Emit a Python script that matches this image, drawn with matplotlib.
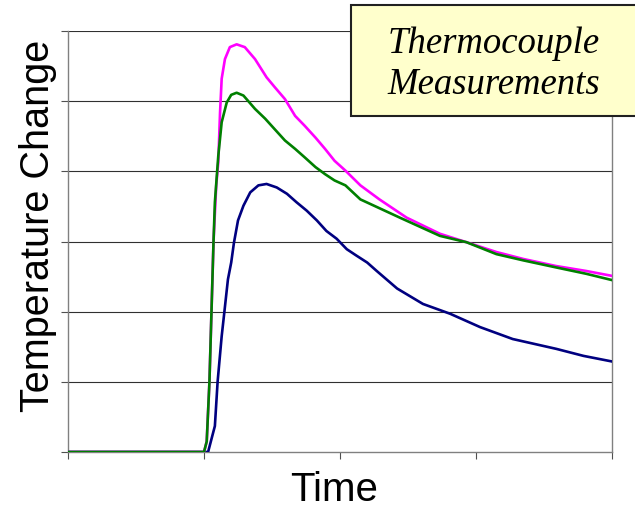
import matplotlib
matplotlib.use("Agg")
import matplotlib.pyplot as plt
from matplotlib.patches import Rectangle

# values (x: 4 tick intervals, y: 6 gridline intervals)
magenta_x = [0.0, 1.0, 1.02, 1.04, 1.055, 1.07, 1.09, 1.105, 1.118, 1.13, 1.154, 1.19, 1.24,
             1.30, 1.375, 1.46, 1.52, 1.595, 1.67, 1.74, 1.82, 1.89, 1.96, 2.04, 2.15,
             2.29, 2.49, 2.735, 2.93, 3.15, 3.35, 3.59, 3.81, 4.0]
magenta_y = [0.0, 0.0, 0.15, 1.0, 2.0, 3.0, 3.8, 4.13, 4.84, 5.32, 5.60, 5.77, 5.81,
             5.77, 5.60, 5.34, 5.20, 5.03, 4.79, 4.65, 4.48, 4.32, 4.15, 4.01, 3.80,
             3.60, 3.34, 3.11, 2.99, 2.85, 2.75, 2.65, 2.58, 2.51]

green_x = [0.0, 1.0, 1.02, 1.04, 1.055, 1.07, 1.08, 1.105, 1.13, 1.167, 1.20, 1.24,
           1.29, 1.375, 1.45, 1.52, 1.595, 1.67, 1.74, 1.82, 1.89, 1.96, 2.04, 2.15,
           2.44, 2.735, 2.93, 3.15, 3.35, 3.59, 3.81, 4.0]
green_y = [0.0, 0.0, 0.15, 1.0, 2.0, 3.0, 3.56, 4.22, 4.70, 4.98, 5.09, 5.12,
           5.08, 4.89, 4.75, 4.60, 4.44, 4.32, 4.20, 4.06, 3.96, 3.87, 3.80, 3.60,
           3.34, 3.08, 2.99, 2.82, 2.73, 2.63, 2.54, 2.45]

blue_x = [0.0, 1.03, 1.08, 1.10, 1.13, 1.15, 1.176, 1.20, 1.22, 1.25, 1.29, 1.34, 1.40,
          1.46, 1.535, 1.61, 1.68, 1.755, 1.83, 1.90, 1.975, 2.05, 2.12, 2.20, 2.27,
          2.42, 2.61, 2.81, 3.03, 3.27, 3.59, 3.79, 4.0]
blue_y = [0.0, 0.0, 0.37, 1.0, 1.65, 2.0, 2.46, 2.70, 2.98, 3.30, 3.51, 3.70, 3.80,
          3.82, 3.77, 3.68, 3.56, 3.44, 3.30, 3.15, 3.04, 2.89, 2.80, 2.70, 2.58,
          2.33, 2.11, 1.97, 1.78, 1.61, 1.47, 1.37, 1.29]

title_text = "Thermocouple\nMeasurements"

fig = plt.figure(figsize=(6.35, 5.10), dpi=100)
ax = fig.add_axes([68 / 635, 57 / 510, 544 / 635, 421 / 510])

for y in range(1, 7):
    ax.axhline(y, color="#303030", lw=0.8, zorder=1)

lw = 1.9
ax.plot(blue_x, blue_y, color="#000080", lw=lw, solid_joinstyle="round", zorder=3)
ax.plot(magenta_x, magenta_y, color="#FF00FF", lw=lw, solid_joinstyle="round", zorder=3)
ax.plot(green_x, green_y, color="#008000", lw=lw, solid_joinstyle="round", zorder=3)

ax.set_xlim(0, 4)
ax.set_ylim(0, 6)
ax.set_xticks(range(0, 5))
ax.set_yticks(range(0, 7))
ax.set_xticklabels([])
ax.set_yticklabels([])
ax.tick_params(direction="out", length=5, width=0.8, color="#505050")
ax.spines["top"].set_visible(False)
for side in ("left", "bottom", "right"):
    ax.spines[side].set_color("#808080")
    ax.spines[side].set_linewidth(1.0)

# axis titles placed like the reference (slightly off-centre)
fig.text(38 / 635, 1 - 226 / 510, "Temperature Change", rotation=90, ha="center", va="center",
         fontsize=28.5, family="Liberation Sans")
fig.text(334 / 635, 1 - 490 / 510, "Time", ha="center", va="center",
         fontsize=29, family="Liberation Sans")

# title box, partly off the right edge like the reference
box = Rectangle((351 / 635, 1 - 117 / 510), 300 / 635, 111 / 510, transform=fig.transFigure,
                facecolor="#FFFFCC", edgecolor="#202020", lw=1.5, zorder=5, clip_on=False)
fig.patches.append(box)
fig.text(494 / 635, 1 - 64 / 510, title_text, ha="center", va="center", fontsize=26.5,
         family="Liberation Serif", style="italic", linespacing=1.25, zorder=6)

fig.savefig("out.png", dpi=100)
